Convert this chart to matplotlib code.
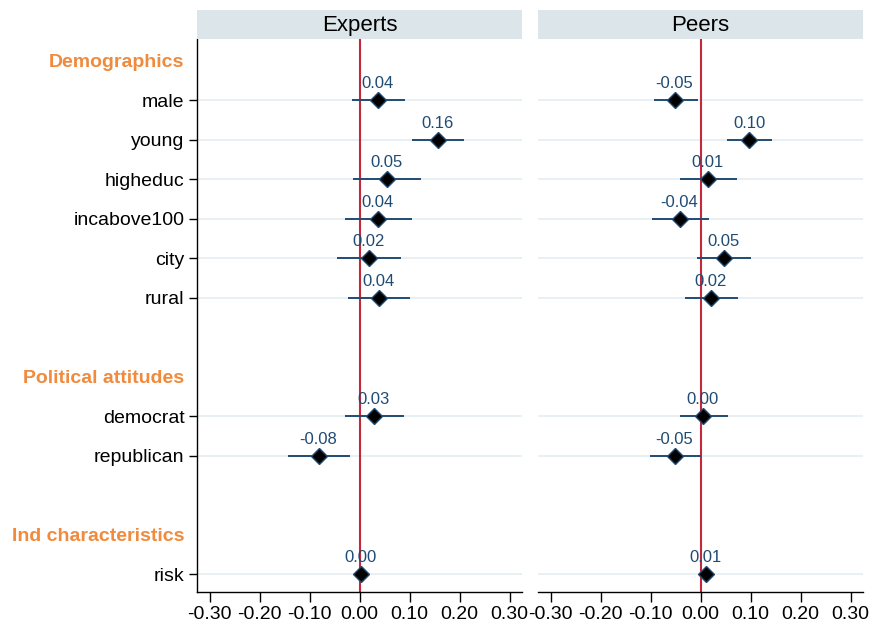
import matplotlib
matplotlib.use("Agg")
import matplotlib.pyplot as plt

plt.rcParams['font.family'] = ['Liberation Sans', 'DejaVu Sans']

# ---- data ----
rows = ["Demographics", "male", "young", "higheduc", "incabove100", "city", "rural", "",
        "Political attitudes", "democrat", "republican", "",
        "Ind characteristics", "risk"]
headers = ["Demographics", "Political attitudes", "Ind characteristics"]
variables = ["male", "young", "higheduc", "incabove100", "city", "rural",
             "democrat", "republican", "risk"]
panels = ["Experts", "Peers"]

experts_est = [0.036, 0.157, 0.054, 0.037, 0.018, 0.038, 0.028, -0.082, 0.002]
experts_lo = [-0.016, 0.104, -0.014, -0.030, -0.046, -0.024, -0.030, -0.144, -0.002]
experts_hi = [0.090, 0.208, 0.122, 0.104, 0.082, 0.100, 0.088, -0.020, 0.006]

peers_est = [-0.052, 0.097, 0.014, -0.042, 0.047, 0.020, 0.004, -0.052, 0.011]
peers_lo = [-0.094, 0.052, -0.042, -0.098, -0.008, -0.032, -0.042, -0.102, 0.007]
peers_hi = [-0.006, 0.142, 0.072, 0.016, 0.100, 0.074, 0.054, 0.000, 0.015]

xticks = [-0.30, -0.20, -0.10, 0.00, 0.10, 0.20, 0.30]

# ---- style ----
ORANGE = "#F08A3C"
NAVY = "#1F4B73"
RED = "#C4283A"
STRIP = "#DCE5EA"
GRID = "#E4EDF1"

fig = plt.figure(figsize=(8.73, 6.28), dpi=100)
W, H = 873, 628

def fx(px):
    return px / W

def fy(py):
    return 1 - py / H

ax_left = [197, 538]
ax_w = 325
ax_top, ax_bot = 39, 592
strip_top = 10

data = {"Experts": (experts_est, experts_lo, experts_hi),
        "Peers": (peers_est, peers_lo, peers_hi)}

ypos = {name: i for i, name in enumerate(rows) if name}

for k, panel in enumerate(panels):
    x0 = ax_left[k]
    ax = fig.add_axes([fx(x0), fy(ax_bot), ax_w / W, (ax_bot - ax_top) / H])
    est, lo, hi = data[panel]
    ys = [ypos[v] for v in variables]
    for y in ys:
        ax.axhline(y, color=GRID, lw=1.2, zorder=0)
    ax.axvline(0, color=RED, lw=1.5, zorder=1)
    ax.hlines(ys, lo, hi, color=NAVY, lw=1.4, zorder=2)
    ax.plot(est, ys, linestyle="none", marker="D", ms=8, mfc="black",
            mec=NAVY, mew=1.0, zorder=3)
    for e, y in zip(est, ys):
        ax.annotate(f"{e:.2f}", (e, y), xytext=(0, 12), textcoords="offset points",
                    ha="center", va="center", fontsize=12, color=NAVY, zorder=4)
    ax.set_xlim(-0.325, 0.325)
    ax.set_ylim(len(rows) - 0.55, -0.55)
    ax.set_xticks(xticks)
    ax.set_xticklabels([f"{t:.2f}" for t in xticks], fontsize=14)
    ax.tick_params(axis="x", length=7, width=1, pad=3, color="black")
    for s in ["top", "right"]:
        ax.spines[s].set_visible(False)
    ax.spines["bottom"].set_linewidth(1.0)
    if k == 0:
        tick_rows = [i for i, n in enumerate(rows) if n]
        ax.set_yticks(tick_rows)
        ax.set_yticklabels([rows[i] for i in tick_rows], fontsize=14)
        ax.tick_params(axis="y", length=6, width=1, pad=3)
        for tick, i in zip(ax.yaxis.get_major_ticks(), tick_rows):
            if rows[i] in headers:
                tick.tick1line.set_visible(False)
                tick.label1.set_color(ORANGE)
                tick.label1.set_fontweight("bold")
        ax.spines["left"].set_linewidth(1.0)
    else:
        ax.set_yticks([])
        ax.spines["left"].set_visible(False)
    # strip header
    sax = fig.add_axes([fx(x0), fy(ax_top), ax_w / W, (ax_top - strip_top) / H])
    sax.set_facecolor(STRIP)
    sax.set_xticks([])
    sax.set_yticks([])
    for s in sax.spines.values():
        s.set_visible(False)
    sax.text(0.5, 0.45, panel, ha="center", va="center", fontsize=16,
             transform=sax.transAxes)

fig.savefig("out.png", dpi=100, facecolor="white")
